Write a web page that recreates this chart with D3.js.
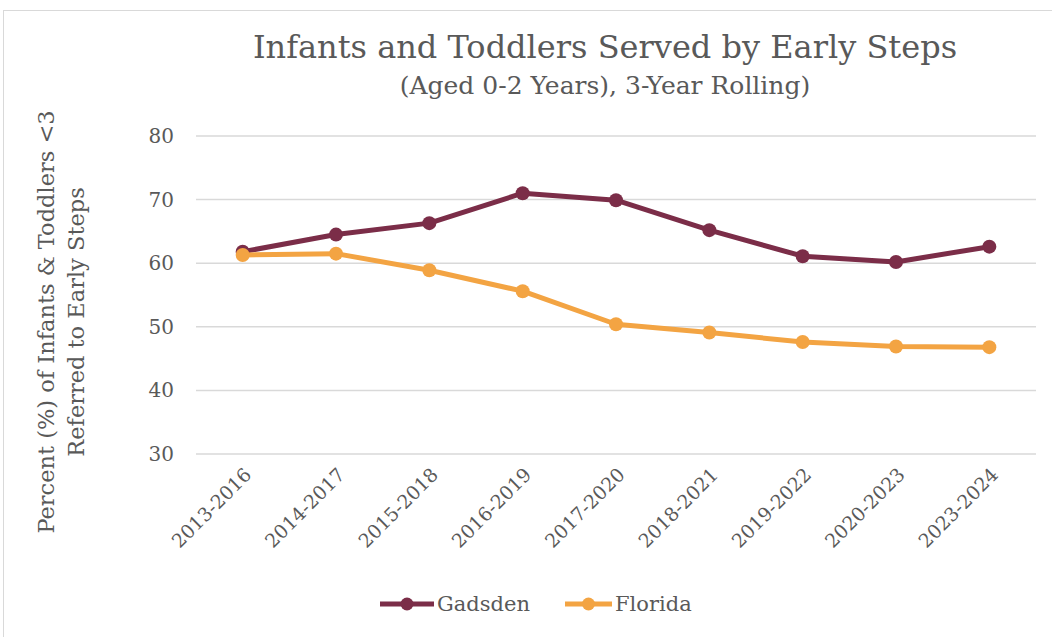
<!DOCTYPE html>
<html>
<head>
<meta charset="utf-8">
<script src="https://cdn.jsdelivr.net/npm/d3@7"></script>
<style>
  body { margin: 0; background: #fff; }
  svg { display: block; font-family: "DejaVu Serif", "Liberation Serif", serif; }
</style>
</head>
<body>
<svg id="chart" width="1052" height="637"></svg>
<script>
// Early Steps chart: two series over 3-year rolling periods

const periods = ["2013-2016", "2014-2017", "2015-2018", "2016-2019", "2017-2020",
                 "2018-2021", "2019-2022", "2020-2023", "2023-2024"];
const gadsden = [61.8, 64.5, 66.3, 71.0, 69.9, 65.2, 61.1, 60.2, 62.6];
const florida = [61.3, 61.5, 58.9, 55.6, 50.4, 49.1, 47.6, 46.9, 46.8];
const yTicks = [30, 40, 50, 60, 70, 80];

const series = [
    { name: "Gadsden", values: gadsden, color: "#7b2d48" },
    { name: "Florida", values: florida, color: "#f3a443" }
];

const svg = d3.select("#chart");
const textColor = "#595959";

// chart frame
svg.append("rect")
    .attr("x", 3.5).attr("y", 10.5)
    .attr("width", 1060).attr("height", 640)
    .attr("fill", "none").attr("stroke", "#d9d9d9").attr("stroke-width", 1);

const plot = { left: 196, right: 1036, top: 136, bottom: 454 };

const x = d3.scaleBand().domain(periods).range([plot.left, plot.right]);
const y = d3.scaleLinear().domain([30, 80]).range([plot.bottom, plot.top]);

// gridlines
svg.append("g")
    .selectAll("line")
    .data(yTicks)
    .join("line")
    .attr("x1", plot.left).attr("x2", plot.right)
    .attr("y1", d => y(d)).attr("y2", d => y(d))
    .attr("stroke", "#d9d9d9").attr("stroke-width", 1.5);

// y tick labels
svg.append("g")
    .selectAll("text")
    .data(yTicks)
    .join("text")
    .attr("x", 174)
    .attr("y", d => y(d))
    .attr("dy", "0.35em")
    .attr("text-anchor", "end")
    .attr("fill", textColor)
    .style("font-size", "20px")
    .text(d => d);

// x tick labels, rotated
svg.append("g")
    .selectAll("text")
    .data(periods)
    .join("text")
    .attr("transform", d => `translate(${x(d) + x.bandwidth() / 2 + 10},${476}) rotate(-45)`)
    .attr("text-anchor", "end")
    .attr("fill", textColor)
    .style("font-size", "19px")
    .text(d => d);

// y axis title
const yTitle = svg.append("text")
    .attr("transform", "translate(54,322) rotate(-90)")
    .attr("text-anchor", "middle")
    .attr("fill", textColor)
    .style("font-size", "22.5px");
yTitle.append("tspan").attr("x", 0).attr("y", 0).text("Percent (%) of Infants & Toddlers <3");
yTitle.append("tspan").attr("x", 0).attr("y", 30).text("Referred to Early Steps");

// title
svg.append("text")
    .attr("x", 605).attr("y", 58)
    .attr("text-anchor", "middle")
    .attr("fill", textColor)
    .style("font-size", "32px")
    .text("Infants and Toddlers Served by Early Steps");

svg.append("text")
    .attr("x", 605).attr("y", 94)
    .attr("text-anchor", "middle")
    .attr("fill", textColor)
    .style("font-size", "25px")
    .text("(Aged 0-2 Years), 3-Year Rolling)");

// lines + markers
const line = d3.line()
    .x((d, i) => x(periods[i]) + x.bandwidth() / 2)
    .y(d => y(d));

series.forEach(s => {
    svg.append("path")
        .datum(s.values)
        .attr("d", line)
        .attr("fill", "none")
        .attr("stroke", s.color)
        .attr("stroke-width", 5)
        .attr("stroke-linejoin", "round");

    svg.append("g")
        .selectAll("circle")
        .data(s.values)
        .join("circle")
        .attr("cx", (d, i) => x(periods[i]) + x.bandwidth() / 2)
        .attr("cy", d => y(d))
        .attr("r", 7)
        .attr("fill", s.color);
});

// legend
const legendItems = [
    { s: series[0], x: 380, tx: 437 },
    { s: series[1], x: 565, tx: 615 }
];
const legend = svg.append("g");
legendItems.forEach(it => {
    const lg = legend.append("g");
    lg.append("line")
        .attr("x1", it.x).attr("x2", it.tx - 3)
        .attr("y1", 604).attr("y2", 604)
        .attr("stroke", it.s.color).attr("stroke-width", 5);
    lg.append("circle")
        .attr("cx", (it.x + it.tx - 3) / 2).attr("cy", 604)
        .attr("r", 6.5).attr("fill", it.s.color);
    lg.append("text")
        .attr("x", it.tx).attr("y", 604)
        .attr("dy", "0.35em")
        .attr("fill", textColor)
        .style("font-size", "21px")
        .text(it.s.name);
});
</script>
</body>
</html>
